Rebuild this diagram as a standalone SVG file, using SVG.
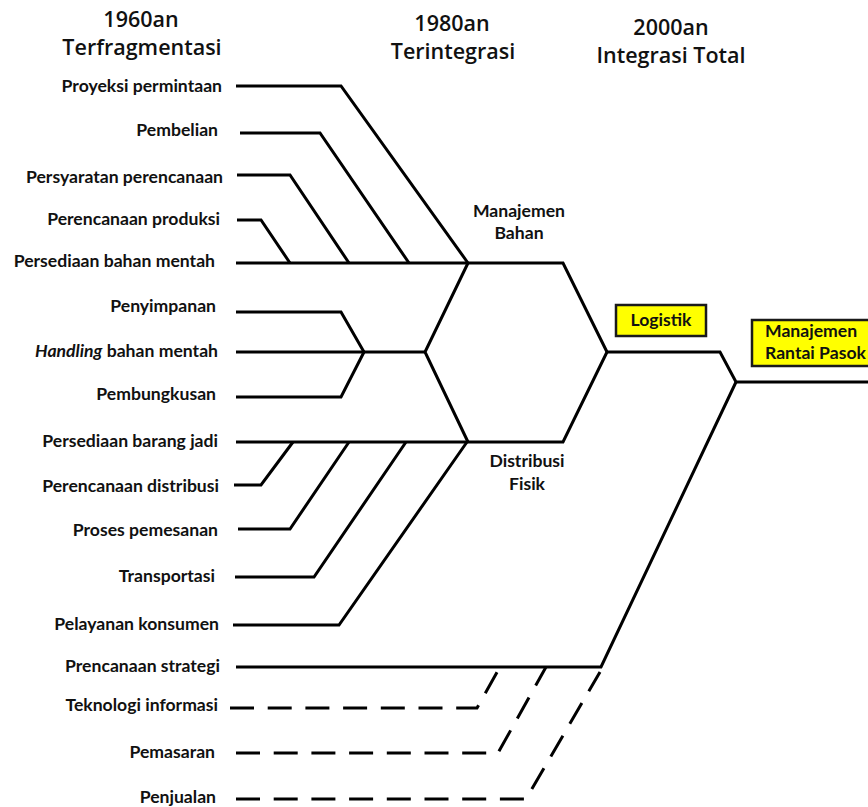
<svg xmlns="http://www.w3.org/2000/svg" width="868" height="807" viewBox="0 0 868 807">
  <style>
    .hdr { font-family: "Open Sans", Lato, "Liberation Sans", sans-serif; font-size: 21.5px; font-weight: 600; fill: #111; text-anchor: middle; }
    .lbl { font-family: Lato, "Open Sans", "Liberation Sans", sans-serif; font-size: 17.6px; font-weight: bold; fill: #111; text-anchor: end; }
    .lft { text-anchor: start; }
    .mid { font-family: Lato, "Open Sans", "Liberation Sans", sans-serif; font-size: 17.6px; font-weight: bold; fill: #111; text-anchor: middle; }
    .ln { fill: none; stroke: #000; stroke-width: 3; stroke-linejoin: miter; }
    .dash { stroke-dasharray: 24 13.7; }
    .box { fill: #ffff00; stroke: #1a1a1a; stroke-width: 2.5; }
  </style>
  <rect width="868" height="807" fill="#fff"/>

  <!-- era headings -->
  <g id="era-1960"><text class="hdr" x="141" y="27">1960an</text><text class="hdr" x="142" y="55">Terfragmentasi</text></g>
  <g id="era-1980"><text class="hdr" x="452" y="31">1980an</text><text class="hdr" x="453" y="59">Terintegrasi</text></g>
  <g id="era-2000"><text class="hdr" x="671" y="35">2000an</text><text class="hdr" x="671" y="63">Integrasi Total</text></g>

  <!-- connectors -->
  <g id="connectors">
    <!-- materials management branch -->
    <polyline class="ln" points="236,86 341,86 468,263"/>
    <polyline class="ln" points="240,133 320,133 409,263"/>
    <polyline class="ln" points="237,175 290,175 349,263"/>
    <polyline class="ln" points="237,220 261,220 290,263"/>
    <polyline class="ln" points="236,263 563,263 607,352"/>
    <!-- handling branch -->
    <polyline class="ln" points="236,312 341,312 364,352"/>
    <polyline class="ln" points="236,352 425,352"/>
    <polyline class="ln" points="236,397 341,397 364,352"/>
    <polyline class="ln" points="468,263 425,352 468,442"/>
    <!-- physical distribution branch -->
    <polyline class="ln" points="236,442 563,442 607,352"/>
    <polyline class="ln" points="234,485 261,485 293,442"/>
    <polyline class="ln" points="238,529 290,529 349,442"/>
    <polyline class="ln" points="235,577 314,577 406,442"/>
    <polyline class="ln" points="233,625 339,625 467,442"/>
    <!-- logistics to supply chain -->
    <polyline class="ln" points="607,352 720,352 736,382 870,382"/>
    <polyline class="ln" points="236,667 601,667 736,382"/>
    <!-- dashed inputs -->
    <polyline class="ln dash" points="230,708 477,708 500,667"/>
    <polyline class="ln dash" points="236,753 498,753 546,667"/>
    <polyline class="ln dash" points="236,799 526,799 600,672"/>
  </g>

  <!-- left-hand activities -->
  <g id="proyeksi"><text class="lbl" x="222" y="92">Proyeksi permintaan</text></g>
  <g id="pembelian"><text class="lbl" x="218" y="136">Pembelian</text></g>
  <g id="persyaratan"><text class="lbl" x="223" y="183">Persyaratan perencanaan</text></g>
  <g id="produksi"><text class="lbl" x="220" y="225">Perencanaan produksi</text></g>
  <g id="bahan-mentah"><text class="lbl" x="215" y="267">Persediaan bahan mentah</text></g>
  <g id="penyimpanan"><text class="lbl" x="216" y="312">Penyimpanan</text></g>
  <g id="handling"><text class="lbl" x="218" y="357"><tspan font-style="italic">Handling</tspan> bahan mentah</text></g>
  <g id="pembungkusan"><text class="lbl" x="216" y="400">Pembungkusan</text></g>
  <g id="barang-jadi"><text class="lbl" x="218" y="447">Persediaan barang jadi</text></g>
  <g id="distribusi"><text class="lbl" x="219" y="492">Perencanaan distribusi</text></g>
  <g id="pemesanan"><text class="lbl" x="218" y="536">Proses pemesanan</text></g>
  <g id="transportasi"><text class="lbl" x="215" y="582">Transportasi</text></g>
  <g id="pelayanan"><text class="lbl" x="219" y="630">Pelayanan konsumen</text></g>
  <g id="strategi"><text class="lbl" x="220" y="672">Prencanaan strategi</text></g>
  <g id="teknologi"><text class="lbl" x="218" y="711">Teknologi informasi</text></g>
  <g id="pemasaran"><text class="lbl" x="215" y="758">Pemasaran</text></g>
  <g id="penjualan"><text class="lbl" x="216" y="803">Penjualan</text></g>

  <!-- integrated functions -->
  <g id="manajemen-bahan"><text class="mid" x="519" y="217">Manajemen</text><text class="mid" x="519" y="239">Bahan</text></g>
  <g id="distribusi-fisik"><text class="mid" x="527" y="467">Distribusi</text><text class="mid" x="527" y="490">Fisik</text></g>

  <g id="logistik">
    <rect class="box" x="616" y="305" width="90" height="31"/>
    <text class="mid" x="661" y="326">Logistik</text>
  </g>
  <g id="rantai-pasok">
    <rect class="box" x="752" y="320" width="124" height="46"/>
    <text class="lbl lft" x="765" y="337">Manajemen</text>
    <text class="lbl lft" x="765" y="359">Rantai Pasok</text>
  </g>
</svg>
